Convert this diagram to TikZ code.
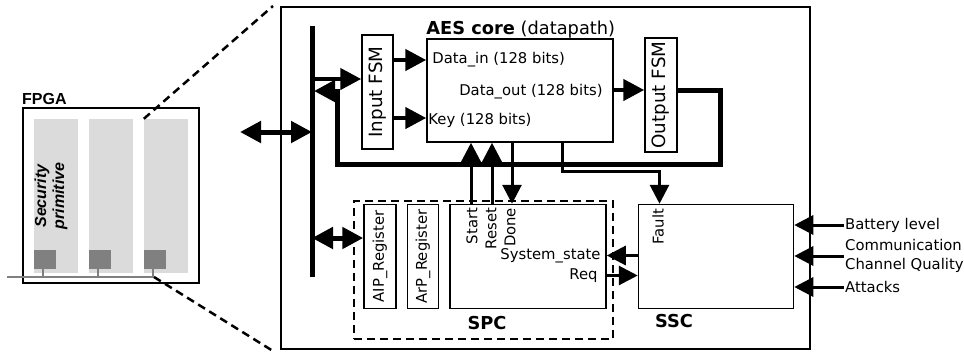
\documentclass[tikz,border=0pt]{standalone}
\usepackage{fontspec}
\setmainfont{DejaVu Sans}
\newfontfamily\arialfont{Liberation Sans}
\usetikzlibrary{arrows.meta,positioning}

\tikzset{
  blk/.style={rectangle, draw, line width=1.5pt, inner sep=0pt},
  lbl/.style={inner sep=0pt, font=\fontsize{14.8}{19}\selectfont},
  ttl/.style={inner sep=0pt, font=\bfseries\fontsize{17.8}{20}\selectfont},
  fsmtxt/.style={rotate=90, font=\fontsize{18.3}{20}\selectfont},
  bigarrow/.style={line width=4.5pt, -{Triangle[length=21pt,width=21pt]}},
  dblarrow/.style={line width=5pt, {Triangle[length=21pt,width=21pt]}-{Triangle[length=21pt,width=21pt]}},
  sig/.style={line width=3pt, -{Triangle[length=19pt,width=19pt]}},
  zoomline/.style={line width=2.5pt, dash pattern=on 8pt off 5pt},
}

\begin{document}
\begin{tikzpicture}[x=1pt,y=-1pt]
  \useasboundingbox (0,0) rectangle (964,354);

  % FPGA with its columns
  \node[
  rectangle,
  draw,
  line width=1.2pt,
  minimum width=176pt,
  minimum height=175pt,
  inner sep=0pt] (fpga) at (111,195.5) {};
  \node[anchor=base west, inner sep=0pt, font=\arialfont\bfseries\fontsize{16}{19}\selectfont] (fpgalbl) at (22,104) {FPGA};

  \foreach \i/\x in {1/56,2/111,3/166}{
    \node[fill=gray!28, minimum width=44pt, minimum height=154pt, inner sep=0pt] (col\i) at (\x,196) {};
    \node[fill=gray, minimum width=22pt, minimum height=19pt, inner sep=0pt, anchor=south west] (pad\i) at ([yshift=4pt]col\i.south west) {};
  }
  \node[
  rotate=90,
  align=center,
  font=\arialfont\bfseries\itshape\fontsize{16}{18}\selectfont] (secprim) at ([xshift=-5pt]col1.center) {Security\\primitive};

  \coordinate (wireL) at (7,277);
  \coordinate (wireR) at (154,277);
  \draw[gray, line width=1.2pt] (wireL) -- (wireR);
  \foreach \i in {1,2,3}
    \draw[gray, line width=1.2pt] ([xshift=-2pt]pad\i.south) -- ++(0,8);

  % zoom lines
  \coordinate (zoomtop) at (273,6);
  \coordinate (zoombot) at (273,351);
  \draw[zoomline] (col3.north west) -- (zoomtop);
  \draw[zoomline] (wireR) -- (zoombot);

  % enlarged primitive
  \node[
  rectangle,
  draw,
  line width=2pt,
  minimum width=529pt,
  minimum height=342pt,
  inner sep=0pt] (main) at (545.5,178) {};

  \coordinate (bustop) at (312,26);
  \coordinate (busbot) at (312,277);
  \draw[line width=5pt] (bustop) -- (busbot);

  \node[blk, minimum width=31pt, minimum height=114pt] (infsm) at (377.5,92) {};
  \node[fsmtxt] at (infsm) {Input FSM};

  \node[blk, minimum width=186pt, minimum height=103pt] (aes) at (520,90.5) {};
  \node[anchor=base west, inner sep=0pt, font=\fontsize{17.8}{20}\selectfont] (aeslbl) at ([yshift=4pt]aes.north west) {\textbf{AES core} (datapath)};
  \node[lbl, anchor=west] (din) at ([xshift=6pt, yshift=30.5pt]aes.west) {Data\_in (128 bits)};
  \node[lbl, anchor=east] (dout) at ([xshift=-11pt, yshift=-1.5pt]aes.east) {Data\_out (128 bits)};
  \node[lbl, anchor=west] (key) at ([xshift=2pt, yshift=-29.5pt]aes.west) {Key (128 bits)};

  \node[blk, minimum width=32pt, minimum height=114pt] (outfsm) at (661,95) {};
  \node[fsmtxt] at (outfsm) {Output FSM};

  \node[
  rectangle,
  draw,
  line width=2.5pt,
  dash pattern=on 8pt off 5pt,
  minimum width=259pt,
  minimum height=138pt] (spc) at (483.5,270) {};
  \node[ttl] (spclbl) at (487,323) {SPC};

  \node[blk, minimum width=32pt, minimum height=104pt] (aip) at (380,256.5) {};
  \node[lbl, rotate=90] at (aip) {AIP\_Register};
  \node[blk, minimum width=31pt, minimum height=104pt, right=10pt of aip] (arp) {};
  \node[lbl, rotate=90] at (arp) {ArP\_Register};
  \node[blk, minimum width=156pt, minimum height=104pt, right=10pt of arp] (ctrl) {};

  \node[blk, minimum width=155pt, minimum height=104pt, right=31pt of ctrl] (ssc) {};
  \node[ttl] (ssclbl) at (674,321) {SSC};

  % bus taps
  \coordinate (ext) at (240,132);
  \coordinate (busext) at (312,132);
  \coordinate (busin) at (312,79);
  \coordinate (busret) at (314,91);
  \coordinate (busaip) at (312,238);

  \draw[dblarrow] (ext) -- (busext);
  \draw[bigarrow] (busin) -- (busin -| infsm.west);
  \draw[dblarrow] (busaip) -- (busaip -| aip.west);

  \draw[bigarrow] ([yshift=32pt]infsm.east) -- ([yshift=32pt]infsm.east -| aes.west);
  \draw[bigarrow] ([yshift=-26pt]infsm.east) -- ([yshift=-26pt]infsm.east -| aes.west);
  \draw[bigarrow] ([yshift=5pt]outfsm.west -| aes.east) -- ([yshift=5pt]outfsm.west);
  \draw[line width=5pt, -{Triangle[length=21pt,width=21pt]}] ([yshift=5pt]outfsm.east) -- ++(43,0) -- ++(0,74) -| ([xshift=23pt]busret) -- (busret);

  % control signals
  \draw[sig] ([xshift=-57pt]ctrl.north) -- ([xshift=-57pt]ctrl.north |- aes.south);
  \draw[sig] ([xshift=-36pt]ctrl.north) -- ([xshift=-36pt]ctrl.north |- aes.south);
  \draw[sig] ([xshift=-16pt]ctrl.north |- aes.south) -- ([xshift=-16pt]ctrl.north);
  \node[lbl, rotate=90, anchor=east] (start) at ([xshift=-56pt, yshift=-4pt]ctrl.north) {Start};
  \node[lbl, rotate=90, anchor=east] (reset) at ([xshift=-37pt, yshift=-4pt]ctrl.north) {Reset};
  \node[lbl, rotate=90, anchor=east] (done) at ([xshift=-18pt, yshift=-4pt]ctrl.north) {Done};
  \node[lbl, anchor=east] (sysst) at ([xshift=-6pt, yshift=1pt]ctrl.east) {System\_state};
  \node[lbl, anchor=east] (req) at ([xshift=-9pt, yshift=-19pt]ctrl.east) {Req};

  \draw[sig] ([yshift=1pt]ctrl.east -| ssc.west) -- ([yshift=1pt]ctrl.east);
  \draw[sig] ([yshift=-19pt]ctrl.east) -- ([yshift=-19pt]ctrl.east -| ssc.west);

  \draw[sig] ([xshift=42pt]aes.south) -- ++(0,29) -| ([xshift=-56.5pt]ssc.north);
  \node[lbl, rotate=90, anchor=east] (fault) at ([xshift=-58pt, yshift=-5pt]ssc.north) {Fault};

  % external inputs
  \node[lbl, anchor=west, inner sep=1pt] (bat) at (844,225) {Battery level};
  \node[lbl, anchor=west, align=left, inner sep=1pt] (chq) at (844,256) {Communication\\Channel Quality};
  \node[lbl, anchor=west, inner sep=1pt] (att) at (844,287) {Attacks};
  \draw[sig] (bat.west) -- (bat.west -| ssc.east);
  \draw[sig] (chq.west) -- (chq.west -| ssc.east);
  \draw[sig] (att.west) -- (att.west -| ssc.east);
\end{tikzpicture}
\end{document}
